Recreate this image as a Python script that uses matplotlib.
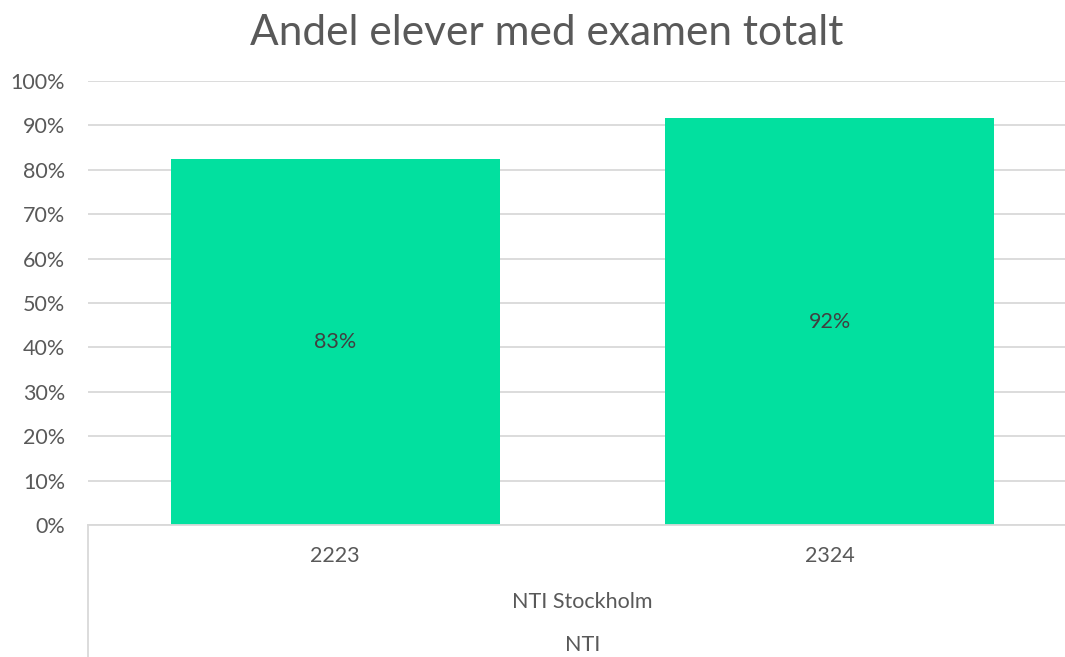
import matplotlib
matplotlib.use("Agg")
import matplotlib.pyplot as plt
from matplotlib.lines import Line2D
import matplotlib.transforms as mtransforms

categories = ["2223", "2324"]
values = [0.825, 0.916]
value_labels = ["83%", "92%"]
group_label = "NTI Stockholm"
top_label = "NTI"
title = "Andel elever med examen totalt"
yticks = [i / 10 for i in range(11)]
ytick_labels = [f"{i*10}%" for i in range(11)]

plt.rcParams['font.family'] = ['Lato', 'DejaVu Sans']
W, H = 1065, 657
fig = plt.figure(figsize=(W / 100, H / 100), dpi=100)
L, R, T, B = 88, 1077, 81, 525
ax = fig.add_axes([L / W, 1 - B / H, (R - L) / W, (B - T) / H])

text_col = "#595959"
grid_col = "#d9d9d9"
bar_col = "#02E09F"
fs = 15.5

x = range(len(categories))
bars = ax.bar(x, values, width=0.665, color=bar_col, zorder=2)
ax.set_xlim(-0.5, len(categories) - 0.5)
ax.set_ylim(0, 1)
ax.set_yticks(yticks)
ax.set_yticklabels(ytick_labels, fontsize=fs, color=text_col)
ax.tick_params(axis='y', length=0, pad=16.5)
ax.tick_params(axis='x', length=0, labelbottom=False)
ax.yaxis.grid(True, color=grid_col, linewidth=1.3, zorder=0)
for s in ["top", "right", "left"]:
    ax.spines[s].set_visible(False)
ax.spines["bottom"].set_color(grid_col)
ax.spines["bottom"].set_linewidth(1.3)

for xi, v, lab in zip(x, values, value_labels):
    ax.text(xi, v / 2, lab, ha='center', va='center', fontsize=fs, color="#404040")

trans = mtransforms.blended_transform_factory(ax.transData, fig.transFigure)
for xi, c in zip(x, categories):
    ax.text(xi, 1 - 556 / H, c, ha='center', va='center', fontsize=fs, color=text_col, transform=trans)
ax.text(0.5, 1 - 602 / H, group_label, ha='center', va='center', fontsize=fs, color=text_col, transform=trans)
ax.text(0.5, 1 - 645 / H, top_label, ha='center', va='center', fontsize=fs, color=text_col, transform=trans)

fig.add_artist(Line2D([L / W, L / W], [0, 1 - B / H], color=grid_col, linewidth=1.3, transform=fig.transFigure))

fig.text(547 / W, 1 - 33 / H, title, ha='center', va='center', fontsize=30.5, color=text_col)

fig.savefig("out.png", dpi=100, facecolor="white")
